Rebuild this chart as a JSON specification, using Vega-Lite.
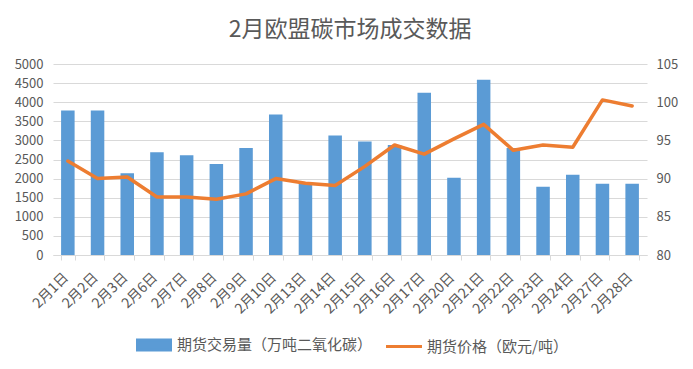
{
  "$schema": "https://vega.github.io/schema/vega-lite/v6.json",
  "width": 594,
  "height": 191,
  "autosize": {"type": "none"},
  "padding": {"left": 53, "top": 64, "right": 46, "bottom": 114},
  "title": {"text": "2月欧盟碳市场成交数据", "fontSize": 23, "font": "Noto Sans CJK SC", "fontWeight": "normal", "color": "#595959", "offset": 16, "anchor": "middle"},
  "config": {
    "font": "Noto Sans CJK SC",
    "view": {"stroke": null},
    "axis": {"labelColor": "#595959", "labelFontSize": 13, "labelFont": "Noto Sans CJK SC"}
  },
  "data": {"values": [
    {"date": "2月1日", "vol": 3780, "price": 92.3},
    {"date": "2月2日", "vol": 3780, "price": 90.0},
    {"date": "2月3日", "vol": 2140, "price": 90.2},
    {"date": "2月6日", "vol": 2690, "price": 87.6},
    {"date": "2月7日", "vol": 2610, "price": 87.6},
    {"date": "2月8日", "vol": 2380, "price": 87.3},
    {"date": "2月9日", "vol": 2800, "price": 88.0},
    {"date": "2月10日", "vol": 3680, "price": 90.0},
    {"date": "2月13日", "vol": 1910, "price": 89.4},
    {"date": "2月14日", "vol": 3130, "price": 89.1},
    {"date": "2月15日", "vol": 2970, "price": 91.6},
    {"date": "2月16日", "vol": 2880, "price": 94.4},
    {"date": "2月17日", "vol": 4245, "price": 93.2},
    {"date": "2月20日", "vol": 2020, "price": 95.2},
    {"date": "2月21日", "vol": 4590, "price": 97.1},
    {"date": "2月22日", "vol": 2800, "price": 93.7},
    {"date": "2月23日", "vol": 1785, "price": 94.4},
    {"date": "2月24日", "vol": 2100, "price": 94.1},
    {"date": "2月27日", "vol": 1865, "price": 100.3},
    {"date": "2月28日", "vol": 1865, "price": 99.5}
  ]},
  "encoding": {
    "x": {
      "field": "date", "type": "ordinal", "sort": null, "title": null,
      "scale": {"paddingInner": 0.545, "paddingOuter": 0.2725},
      "axis": {"labelAngle": -45, "labelAlign": "right", "labelBaseline": "middle", "labelOffset": -2, "tickBand": "extent", "tickColor": "#D9D9D9", "domainColor": "#D9D9D9", "tickSize": 5, "labelPadding": 15, "labelFontSize": 14}
    },
    "color": {
      "type": "nominal",
      "scale": {"domain": ["期货交易量（万吨二氧化碳）", "期货价格（欧元/吨）"], "range": ["#5B9BD5", "#ED7D31"]},
      "legend": {
        "title": null, "orient": "none", "direction": "horizontal", "legendX": 83, "legendY": 263,
        "labelFontSize": 15, "labelColor": "#595959", "columnPadding": 7, "labelOffset": 5, "symbolSize": 1089, "labelLimit": 300,
        "encode": {"symbols": {"update": {
          "shape": {"signal": "datum.value === '期货价格（欧元/吨）' ? 'M-1.09,0H1.09' : 'M-1,-0.3H1V0.3H-1Z'"},
          "fill": {"signal": "datum.value === '期货价格（欧元/吨）' ? 'transparent' : '#5B9BD5'"},
          "stroke": {"signal": "datum.value === '期货价格（欧元/吨）' ? '#ED7D31' : 'transparent'"},
          "strokeWidth": {"value": 3},
          "opacity": {"value": 1}
        }}}
      }
    }
  },
  "layer": [
    {
      "mark": {"type": "bar"},
      "encoding": {
        "y": {"field": "vol", "type": "quantitative", "title": null, "scale": {"domain": [0, 5000]},
          "axis": {"values": [0, 500, 1000, 1500, 2000, 2500, 3000, 3500, 4000, 4500, 5000], "format": "d", "grid": true, "gridColor": "#D9D9D9", "domain": false, "ticks": false, "labelPadding": 10}},
        "color": {"datum": "期货交易量（万吨二氧化碳）", "type": "nominal"}
      }
    },
    {
      "mark": {"type": "line", "strokeWidth": 3.5, "strokeCap": "round", "strokeJoin": "round"},
      "encoding": {
        "y": {"field": "price", "type": "quantitative", "title": null, "scale": {"domain": [80, 105], "zero": false},
          "axis": {"orient": "right", "values": [80, 85, 90, 95, 100, 105], "grid": false, "domain": false, "ticks": false, "labelPadding": 9}},
        "color": {"datum": "期货价格（欧元/吨）", "type": "nominal"}
      }
    }
  ],
  "resolve": {"scale": {"y": "independent"}}
}
